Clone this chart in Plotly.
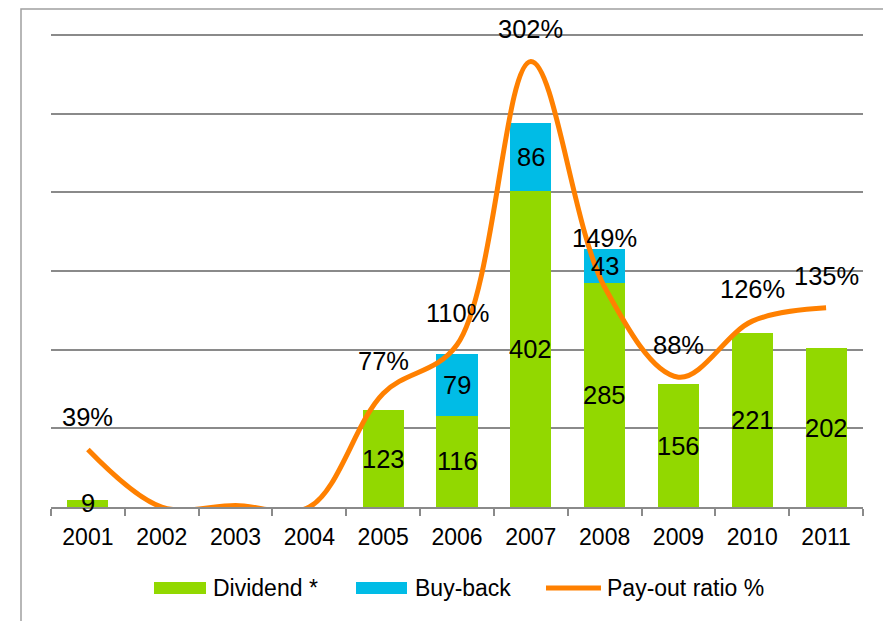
import plotly.graph_objects as go

years = ["2001", "2002", "2003", "2004", "2005", "2006", "2007", "2008", "2009", "2010", "2011"]
dividend = [9, 0, 0, 0, 123, 116, 402, 285, 156, 221, 202]
buyback = [0, 0, 0, 0, 0, 79, 86, 43, 0, 0, 0]
payout = [39, 0, 1, 0, 77, 110, 302, 149, 88, 126, 135]

GREEN = "rgb(146,216,0)"
CYAN = "rgb(0,188,230)"
ORANGE = "rgb(255,128,0)"
GRID = "rgb(138,138,138)"
FONT = "Liberation Sans, Arial, sans-serif"

# the page body adds an 8px offset; layout is expressed in screen pixels minus that offset
OFF = 8
W, H = 891 - OFF, 621 - OFF
Y1MAX = 605
Y2MAX = 320 * Y1MAX / 600
BASE_Y, TOP_Y = 507, 35          # screen y of value 0 and of value 600
PH = (BASE_Y - TOP_Y) * Y1MAX / 600
ML = 51 - OFF
MR = W - (863 - OFF)
MB = H - (BASE_Y - OFF)
MT = H - MB - PH
PW = W - ML - MR


def px_x(p):
    return (p - OFF - ML) / PW


def px_y(p):
    return (H - MB - (p - OFF)) / PH


fig = go.Figure()
fig.add_trace(go.Bar(x=years, y=dividend, name="Dividend *", marker_color=GREEN,
                     marker_line_width=0, showlegend=False))
fig.add_trace(go.Bar(x=years, y=buyback, name="Buy-back", marker_color=CYAN,
                     marker_line_width=0, showlegend=False))
fig.add_trace(go.Scatter(x=years, y=payout, name="Pay-out ratio %", yaxis="y2",
                         mode="lines", line=dict(color=ORANGE, width=5, shape="spline", smoothing=1.0),
                         showlegend=False))

annotations = []
# bar labels (centered in each segment); x given as category index
for i, (d, b) in enumerate(zip(dividend, buyback)):
    if d > 0:
        annotations.append(dict(x=i, y=d / 2, xref="x", yref="y", text=str(d), showarrow=False,
                                font=dict(size=25.5, color="black", family=FONT)))
    if b > 0:
        annotations.append(dict(x=i, y=d + b / 2, xref="x", yref="y", text=str(b), showarrow=False,
                                font=dict(size=25.5, color="black", family=FONT)))

# payout labels above the line points
label_shift = {"2008": 49}
for i, (yr, p) in enumerate(zip(years, payout)):
    if p >= 5:
        annotations.append(dict(x=i, y=p, xref="x", yref="y2", text=f"{p}%", showarrow=False,
                                yshift=label_shift.get(yr, 32),
                                font=dict(size=25.5, color="black", family=FONT)))

# manual legend
leg_y = 588
legend_items = [
    ("Dividend *", GREEN, "rect", 154, 206, 211),
    ("Buy-back", CYAN, "rect", 356, 407, 413),
    ("Pay-out ratio %", ORANGE, "line", 546, 601, 605),
]
shapes = []
for name, col, kind, x0, x1, tx in legend_items:
    if kind == "rect":
        shapes.append(dict(type="rect", xref="paper", yref="paper", x0=px_x(x0), x1=px_x(x1),
                           y0=px_y(leg_y + 6), y1=px_y(leg_y - 6), fillcolor=col, line_width=0))
    else:
        shapes.append(dict(type="line", xref="paper", yref="paper", x0=px_x(x0), x1=px_x(x1),
                           y0=px_y(leg_y), y1=px_y(leg_y), line=dict(color=col, width=5)))
    annotations.append(dict(x=px_x(tx), y=px_y(leg_y), xref="paper", yref="paper", text=name,
                            showarrow=False, xanchor="left", yanchor="middle",
                            font=dict(size=23, color="black", family=FONT)))

# outer frame (top edge kept just inside the visible page)
shapes.append(dict(type="path", xref="paper", yref="paper",
                   path=f"M {px_x(21)},{px_y(700)} L {px_x(21)},{px_y(9)} L {px_x(888)},{px_y(9)}",
                   line=dict(color="rgb(160,160,160)", width=1.5)))
shapes.append(dict(type="line", xref="paper", yref="paper", x0=px_x(888), x1=px_x(888),
                   y0=px_y(9), y1=px_y(700), line=dict(color="rgb(205,205,205)", width=1.5)))

fig.update_layout(
    width=W, height=H,
    margin=dict(l=ML, r=MR, t=MT, b=MB),
    barmode="stack", bargap=0.444,
    plot_bgcolor="white", paper_bgcolor="white",
    font=dict(family=FONT, size=23, color="black"),
    xaxis=dict(type="category", range=[-0.5, len(years) - 0.5], showline=True, linecolor=GRID,
               linewidth=1.6, ticks="outside", ticklen=7, tickcolor=GRID, tickwidth=1.6,
               tickson="boundaries", showgrid=False, tickangle=0, ticklabelstandoff=9,
               tickfont=dict(size=23, family=FONT, color="black")),
    yaxis=dict(range=[0, Y1MAX], tickvals=[100, 200, 300, 400, 500, 600], showgrid=True,
               gridcolor=GRID, gridwidth=1.8, showticklabels=False, zeroline=False, ticks=""),
    yaxis2=dict(range=[0, Y2MAX], overlaying="y", side="right", showgrid=False,
                showticklabels=False, zeroline=False, ticks=""),
    showlegend=False,
    annotations=annotations,
    shapes=shapes,
)

fig.write_html("out.html")
